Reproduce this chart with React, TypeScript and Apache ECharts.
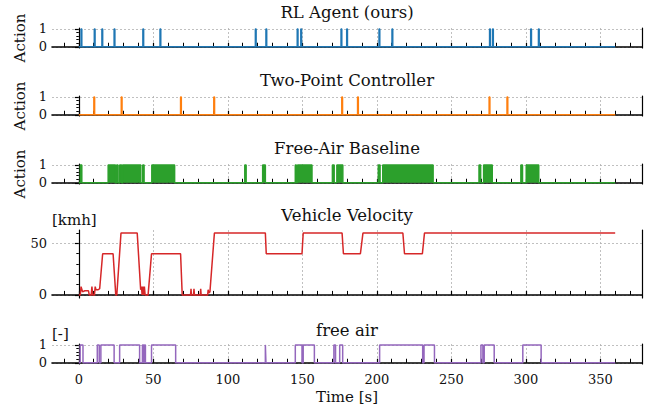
import React, { useEffect, useRef } from "react";
import * as echarts from "echarts";

const FONT = "DejaVu Serif";
const TEXT_COLOR = "#111";

const TITLES = ["RL Agent (ours)", "Two-Point Controller", "Free-Air Baseline", "Vehicle Velocity", "free air"];
const COLORS = ["#1f77b4", "#ff7f0e", "#2ca02c", "#d62728", "#9467bd"];

const X_MAJOR = [0, 50, 100, 150, 200, 250, 300, 350];
const X_MINOR = [-10, 10, 20, 30, 40, 60, 70, 80, 90, 110, 120, 130, 140, 160, 170, 180, 190, 210, 220, 230, 240, 260, 270, 280, 290, 310, 320, 330, 340, 360, 370];
const ACTION_MAJOR = [0, 1];
const ACTION_MINOR = [0.2, 0.4, 0.6, 0.8];
const VEL_MAJOR = [0, 50];
const VEL_MINOR = [10, 20, 30, 40, 60];

const T_START = 0;
const T_END = 360;

// RL agent: short switching pulses (time in s)
const RL_SPIKES = [1.5, 10.4, 15.5, 23.7, 43, 54.5, 118.5, 125.6, 146.6, 149, 176, 179.8, 201.5, 210.2, 275.7, 277.7, 303.3, 308.5];
// Two-point controller pulses
const TWO_POINT_SPIKES = [10.1, 28.5, 68.3, 90.6, 176.5, 187.1, 275.4, 287.4];
// Free-air baseline on intervals [start, end]
const BASELINE_ON = [
  [1, 2], [19.7, 24.6], [25.4, 26.3], [27.4, 28.7], [29.4, 41.6], [42.9, 43.8], [49, 64.3],
  [111.4, 112.3], [123.4, 125.2], [145.3, 146], [146.8, 156.5], [170.2, 171.4], [173.2, 177.2],
  [201, 202.2], [204, 237.8], [268.6, 269.7], [271.7, 277.5], [296.7, 297.8], [300.3, 308.7],
];
// Free-air state on intervals
const FREE_AIR_ON = [
  [0.9, 2.8], [12.4, 13.7], [14.8, 23.7], [27.4, 40.8], [42.7, 43.5], [44.1, 44.7], [48.8, 65],
  [125.2, 125.6], [145.3, 149.8], [150.6, 158.1], [171.2, 172.3], [175.1, 177.1], [201.9, 230.8],
  [231.7, 238.7], [269.9, 271.2], [272.1, 278.8], [298, 310.3],
];
// Vehicle velocity
const VEL_T = [0, 1, 1.5, 2.5, 4, 6.5, 7, 8.3, 8.8, 9.3, 10.5, 11, 11.5, 12, 13, 14, 16, 23, 24.8, 25.5, 28.3, 39.2, 41.5, 42, 42.5, 43, 43.5, 44, 44.5, 46.5, 48.8, 68.3, 69.4, 75, 75.3, 75.6, 77, 77.3, 77.6, 81.5, 81.8, 82.1, 86.5, 86.8, 87.2, 88, 91, 125.2, 125.8, 149.8, 150.6, 176.7, 177.6, 189, 190.7, 217.5, 218.6, 230.6, 232, 360];
const VEL_V = [0, 0, 8, 3, 4, 4, 0, 0, 8, 0, 0, 8, 5, 5, 5, 6, 40, 40, 0, 0, 60, 60, 5, 8, 0, 8, 0, 8, 0, 0, 40, 40, 0, 0, 6, 0, 0, 6, 0, 0, 6, 0, 0, 5, 2, 3, 60, 60, 40, 40, 60, 60, 40, 40, 60, 60, 40, 40, 60, 60];

const SPIKE_WIDTH = 0.5;

function intervalsToSteps(intervals: number[][]) {
  const pts: number[][] = [[T_START, 0]];
  intervals.forEach(([a, b]) => {
    pts.push([a, 0], [a, 1], [b, 1], [b, 0]);
  });
  pts.push([T_END, 0]);
  return pts;
}

function spikesToIntervals(spikes: number[]) {
  return spikes.map((t) => [t, t + SPIKE_WIDTH]);
}

const GRIDS = [
  { top: 28, height: 20 },
  { top: 96, height: 20 },
  { top: 164, height: 20 },
  { top: 230, height: 68 },
  { top: 344, height: 20 },
];
const LEFT = 52;
const RIGHT = 9;

export default function App() {
  const ref = useRef<HTMLDivElement>(null);
  useEffect(() => {
    if (!ref.current) return;
    const chart = echarts.init(ref.current, undefined, { renderer: "svg" });

    const dataSets = [
      intervalsToSteps(spikesToIntervals(RL_SPIKES)),
      intervalsToSteps(spikesToIntervals(TWO_POINT_SPIKES)),
      intervalsToSteps(BASELINE_ON),
      VEL_T.map((t, i) => [t, VEL_V[i]]),
      intervalsToSteps(FREE_AIR_ON),
    ];

    const grid = GRIDS.map((g) => ({ left: LEFT, right: RIGHT, top: g.top, height: g.height }));
    const xAxis: any[] = [];
    const yAxis: any[] = [];
    GRIDS.forEach((g, i) => {
      xAxis.push({
        gridIndex: i, type: "value", min: -18, max: 378,
        axisLine: { show: true, lineStyle: { color: "#000", width: 1.6 } },
        axisTick: { show: true, inside: true, length: 4, customValues: X_MAJOR, lineStyle: { color: "#000", width: 1.2 } },
        axisLabel: { show: i === 4, customValues: X_MAJOR, fontFamily: FONT, fontSize: 13, color: TEXT_COLOR, margin: 9 },
        splitLine: { show: true, lineStyle: { color: "#b0b0b0", type: [2, 2], width: 0.8 } },
      });
      xAxis.push({
        gridIndex: i, type: "value", min: -18, max: 378,
        axisLine: { show: false },
        axisTick: { show: true, inside: false, length: 4, customValues: X_MINOR, lineStyle: { color: "#000", width: 1 } },
        axisLabel: { show: false },
        splitLine: { show: false },
      });
      const isVel = i === 3;
      const ymin = isVel ? -3 : -0.07;
      const ymax = isVel ? 63 : 1.05;
      const major = isVel ? VEL_MAJOR : ACTION_MAJOR;
      const minor = isVel ? VEL_MINOR : ACTION_MINOR;
      yAxis.push({
        gridIndex: i, type: "value", min: ymin, max: ymax, position: "left",
        axisLine: { show: true, lineStyle: { color: "#000", width: 1.2 } },
        axisTick: { show: true, inside: false, length: 4, customValues: major, lineStyle: { color: "#000", width: 1.2 } },
        axisLabel: { show: true, customValues: major, fontFamily: FONT, fontSize: 13, color: TEXT_COLOR, margin: 5 },
        splitLine: { show: true, lineStyle: { color: "#b0b0b0", type: [2, 2], width: 0.8 } },
      });
      yAxis.push({
        gridIndex: i, type: "value", min: ymin, max: ymax, position: "left",
        axisLine: { show: false },
        axisTick: { show: true, inside: false, length: 2.5, customValues: minor, lineStyle: { color: "#000", width: 1 } },
        axisLabel: { show: false },
        splitLine: { show: false },
      });
      yAxis.push({
        gridIndex: i, type: "value", min: ymin, max: ymax, position: "right",
        axisLine: { show: true, lineStyle: { color: "#000", width: 1.2 } },
        axisTick: { show: false },
        axisLabel: { show: false },
        splitLine: { show: false },
      });
    });

    const series = dataSets.map((d, i) => ({
      type: "line",
      xAxisIndex: 2 * i,
      yAxisIndex: 3 * i,
      data: d,
      symbol: "none",
      showSymbol: false,
      lineStyle: { color: COLORS[i], width: 1.5 },
      itemStyle: { color: COLORS[i] },
      areaStyle: i === 2 ? { color: COLORS[i], opacity: 1 } : undefined,
      z: 3,
    }));

    const cx = LEFT + (651 - LEFT - RIGHT) / 2;
    const titleY = [12, 80, 148, 215, 330];
    const txt = (text: string, size: number, align: string) => ({
      text, fontFamily: FONT, fontSize: size, fill: TEXT_COLOR, textAlign: align, textVerticalAlign: "middle",
    });
    const graphic: any[] = TITLES.map((t, i) => ({
      type: "text", x: cx, y: titleY[i], style: txt(t, 16.5, "center"),
    }));
    [0, 1, 2].forEach((i) => {
      graphic.push({
        type: "text", x: 20, y: GRIDS[i].top + GRIDS[i].height / 2, rotation: Math.PI / 2,
        style: txt("Action", 15, "center"),
      });
    });
    graphic.push({ type: "text", x: 52, y: 220, style: txt("[kmh]", 15, "left") });
    graphic.push({ type: "text", x: 52, y: 334, style: txt("[-]", 15, "left") });
    graphic.push({ type: "text", x: cx, y: 397, style: txt("Time [s]", 15, "center") });

    chart.setOption({
      animation: false,
      backgroundColor: "#fff",
      grid,
      xAxis,
      yAxis,
      series,
      graphic,
    });
    return () => chart.dispose();
  }, []);
  return <div ref={ref} style={{ position: "absolute", left: 0, top: 0, width: 651, height: 408 }} />;
}
